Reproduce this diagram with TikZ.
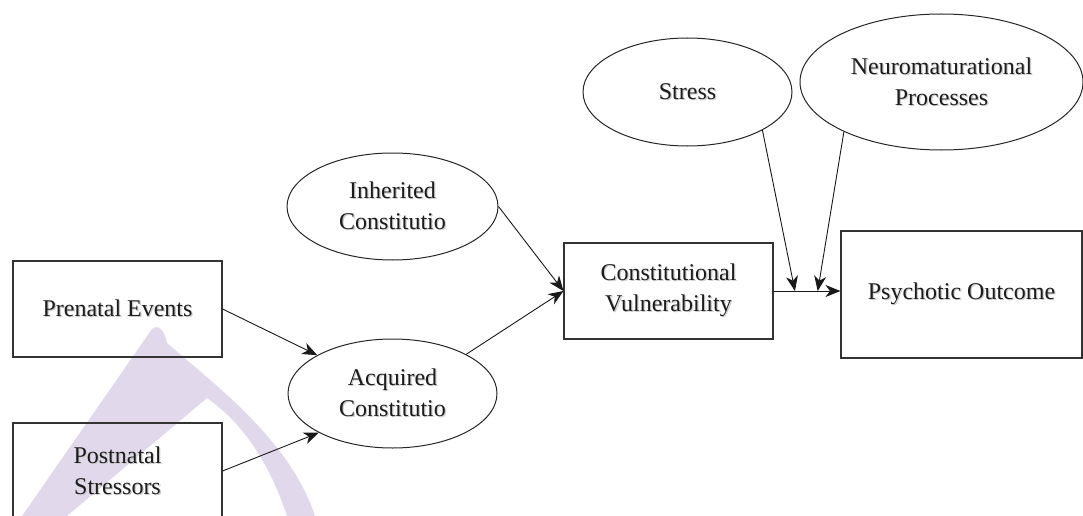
\documentclass[tikz,border=0pt]{standalone}
\usepackage{fontspec}
\setmainfont{Liberation Serif}
\usetikzlibrary{shapes.geometric,arrows.meta,calc}
\definecolor{wmark}{RGB}{225,216,236}
\definecolor{ink}{RGB}{28,28,28}
% text with a soft drop shadow
\newcommand\shd[1]{\leavevmode\rlap{\kern1.3pt\raisebox{-1.3pt}{\textcolor{black!20}{#1}}}#1}

\begin{document}
\begin{tikzpicture}[x=1pt,y=-1pt,
  lbl/.style={align=center, font=\fontsize{24}{31}\selectfont, text=ink, inner sep=0pt},
  box/.style={lbl, draw=black!80, line width=1.1pt, rectangle,
              minimum width=209pt, minimum height=96pt},
  oval/.style={lbl, draw=black!85, line width=1pt, ellipse},
  arr/.style={draw=black!90, line width=0.9pt,
              -{Stealth[length=15pt,width=12pt,inset=4.5pt]}}]

\useasboundingbox (0,0) rectangle (1083,516);

% faint logo mark in the background
\fill[wmark] (22,516) -- (152,329)
  .. controls (159,323) and (165,332) .. (167,343)
  .. controls (215,385) and (290,440) .. (315,516)
  -- (287,516)
  .. controls (270,465) and (245,425) .. (207,398)
  -- (67,516) -- cycle;

% input boxes
\node[box] (pre) at (117.5,309) {\shd{Prenatal Events}};
\node[box] (pst) at (117.5,471) {\shd{Postnatal}\\\shd{Stressors}};

% constitution ellipses
\node[oval, minimum width=211pt, minimum height=107pt] (inh) at (392.5,206.5)
  {\shd{Inherited}\\\shd{Constitutio}};
\node[oval, minimum width=209pt, minimum height=109pt] (acq) at (392.5,393.5)
  {\shd{Acquired}\\\shd{Constitutio}};

% vulnerability and outcome
\node[box] (cv) at (668.5,291) {\shd{Constitutional}\\\shd{Vulnerability}};
\node[box, minimum width=241pt, minimum height=127pt] (po) at (961.5,294.5)
  {\shd{Psychotic Outcome}};

% moderators
\node[oval, minimum width=209pt, minimum height=108pt] (str) at (687.5,92)
  {\shd{Stress}};
\node[oval, minimum width=283pt, minimum height=136pt] (neu) at (941.5,82)
  {\shd{Neuromaturational}\\\shd{Processes}};

% connectors
\draw[arr] (pre.east) -- (acq.153);
\draw[arr] (pst.east) -- (acq.208);
\draw[arr] (inh.east) -- (cv.west);
\draw[arr] (acq.28) -- (cv.west);
\draw[arr] (cv.east) -- (cv.east -| po.west);

\coordinate (j1) at ($(cv.east)!0.32!(cv.east -| po.west)$);
\coordinate (j2) at ($(cv.east)!0.66!(cv.east -| po.west)$);
\draw[arr] (str.-27) -- (j1);
\draw[arr] (neu.207) -- (j2);
\end{tikzpicture}
\end{document}
